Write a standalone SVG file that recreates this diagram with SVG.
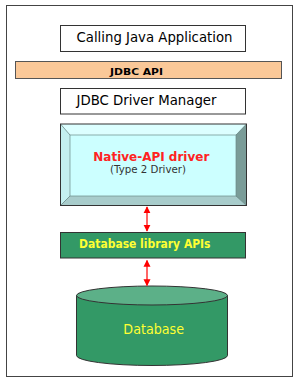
<svg xmlns="http://www.w3.org/2000/svg" width="300" height="385" viewBox="0 0 300 385">
<style>
.box{fill:#fff;stroke:#333;stroke-width:1}
.t{font-family:"DejaVu Sans",Verdana,sans-serif;text-anchor:middle}
.arr{stroke:#ff3333;stroke-width:1.5;fill:none}
</style>
<defs>
<marker id="ah" viewBox="0 0 10 10" refX="9" refY="5" markerWidth="7" markerHeight="8" markerUnits="userSpaceOnUse" orient="auto-start-reverse">
<path d="M0,0 L10,5 L0,10 z" fill="#ff0000"/>
</marker>
</defs>
<rect x="0" y="0" width="300" height="385" fill="#fff"/>
<rect x="6.5" y="5.5" width="286" height="371" fill="#fff" stroke="#444" stroke-width="1"/>
<g id="calling">
<rect class="box" x="60.5" y="25.5" width="185" height="26"/>
<text class="t" x="154.5" y="42" font-size="13.5" textLength="156" lengthAdjust="spacingAndGlyphs">Calling Java Application</text>
</g>
<g id="jdbcapi">
<rect x="15.5" y="61.5" width="266" height="17" fill="#fac898" stroke="#555" stroke-width="1"/>
<text class="t" x="136.5" y="74.5" font-size="9.5" font-weight="bold" textLength="53" lengthAdjust="spacingAndGlyphs">JDBC API</text>
</g>
<g id="manager">
<rect class="box" x="60.5" y="88.5" width="185" height="25.5"/>
<text class="t" x="146.5" y="105" font-size="13.5" textLength="140" lengthAdjust="spacingAndGlyphs">JDBC Driver Manager</text>
</g>
<g id="native">
<polygon points="60.5,124 246.5,124 236,135 70,135" fill="#dcffff"/>
<polygon points="60.5,124 70,135 70,196 60.5,205.5" fill="#c4f0f0"/>
<polygon points="246.5,124 246.5,205.5 236,196 236,135" fill="#7a9c98"/>
<polygon points="60.5,205.5 246.5,205.5 236,196 70,196" fill="#a8cccb"/>
<rect x="70" y="135" width="166" height="61" fill="#ccffff" stroke="#6a8a88" stroke-width="0.7"/>
<path d="M60.5,124 L70,135 M246.5,124 L236,135 M60.5,205.5 L70,196 M246.5,205.5 L236,196" stroke="#5a7a78" stroke-width="0.7"/>
<rect x="60.5" y="124" width="186" height="81.5" fill="none" stroke="#333" stroke-width="1"/>
<text class="t" x="151.3" y="160.7" font-size="12.5" font-weight="bold" fill="#ff2222" textLength="116" lengthAdjust="spacingAndGlyphs">Native-API driver</text>
<text class="t" x="148" y="172.7" font-size="10" fill="#333" textLength="76" lengthAdjust="spacingAndGlyphs">(Type 2 Driver)</text>
</g>
<g id="dblib">
<rect x="60.5" y="232.5" width="185" height="25.5" fill="#339966" stroke="#333" stroke-width="1"/>
<text class="t" x="144.8" y="247.5" font-size="11.5" font-weight="bold" fill="#ffff33" textLength="131.5" lengthAdjust="spacingAndGlyphs">Database library APIs</text>
</g>
<g id="database">
<path d="M76.5,295.5 L76.5,355.5 A75.5,10 0 0 0 227.5,355.5 L227.5,295.5 z" fill="#339966" stroke="#333" stroke-width="1"/>
<ellipse cx="152" cy="295.5" rx="75.5" ry="9.5" fill="#5cb088" stroke="#333" stroke-width="1"/>
<text class="t" x="153.7" y="334" font-size="13.5" fill="#ffff33" textLength="60.7" lengthAdjust="spacingAndGlyphs">Database</text>
</g>
<g id="connectors">
<line class="arr" x1="147" y1="207" x2="147" y2="231" marker-start="url(#ah)" marker-end="url(#ah)"/>
<line class="arr" x1="147" y1="260.5" x2="147" y2="285.5" marker-start="url(#ah)" marker-end="url(#ah)"/>
</g>
</svg>
